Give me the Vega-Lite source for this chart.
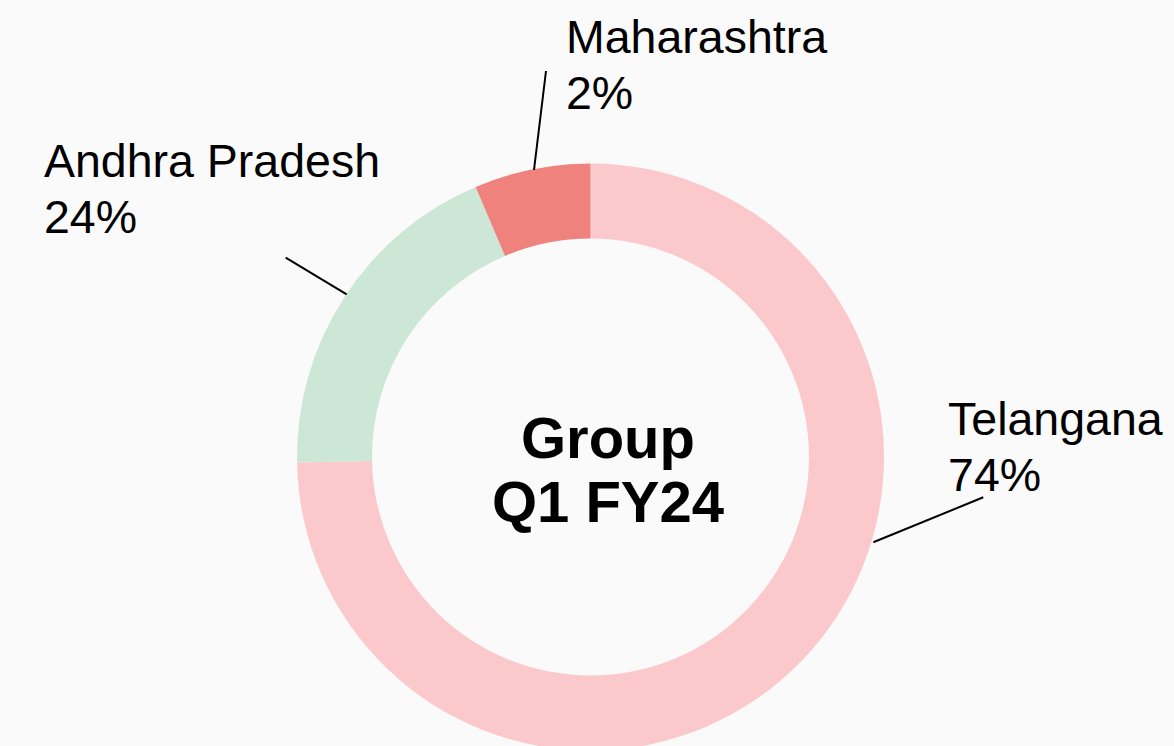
{
  "$schema": "https://vega.github.io/schema/vega-lite/v6.json",
  "width": 1167,
  "height": 578,
  "autosize": {"type": "none"},
  "padding": {"left": 7, "top": 168, "right": 0, "bottom": 0},
  "background": "#fafafa",
  "config": {"view": {"stroke": null}},
  "datasets": {
    "shares": [
      {"state": "Telangana", "share": 74.7, "label": "74%", "ord": 1, "lx": 1.2181, "ly": 0.075, "ax": 0.9636, "ay": -0.2906, "bx": 1.3383, "by": -0.1373},
      {"state": "Andhra Pradesh", "share": 18.9, "label": "24%", "ord": 2, "lx": -1.862, "ly": 0.953, "ax": -0.8307, "ay": 0.5543, "bx": -1.0385, "by": 0.679},
      {"state": "Maharashtra", "share": 6.4, "label": "2%", "ord": 3, "lx": -0.0835, "ly": 1.3755, "ax": -0.1925, "ay": 0.9779, "bx": -0.1516, "by": 1.3152}
    ],
    "center": [
      {"line": "Group", "cx": 0.0596, "cy": -0.0044},
      {"line": "Q1 FY24", "cx": 0.0596, "cy": -0.2204}
    ]
  },
  "layer": [
    {
      "data": {"name": "shares"},
      "mark": {"type": "arc", "innerRadius": 218.5, "outerRadius": 293.5},
      "encoding": {
        "theta": {"field": "share", "type": "quantitative", "stack": true},
        "order": {"field": "ord", "type": "quantitative", "sort": "ascending"},
        "color": {
          "field": "state",
          "type": "nominal",
          "scale": {"domain": ["Telangana", "Andhra Pradesh", "Maharashtra"], "range": ["#fbc9cb", "#cde7d7", "#ef827c"]},
          "legend": null
        }
      }
    },
    {
      "data": {"name": "shares"},
      "mark": {"type": "rule", "color": "#000000", "strokeWidth": 2},
      "encoding": {
        "x": {"field": "ax", "type": "quantitative", "scale": {"domain": [-1.988, 1.988], "nice": false, "zero": false}, "axis": null},
        "y": {"field": "ay", "type": "quantitative", "scale": {"domain": [-0.9847, 0.9847], "nice": false, "zero": false}, "axis": null},
        "x2": {"field": "bx"},
        "y2": {"field": "by"}
      }
    },
    {
      "data": {"name": "shares"},
      "mark": {"type": "text", "align": "left", "baseline": "alphabetic", "font": "Liberation Sans", "fontSize": 46.5, "color": "#000000"},
      "encoding": {
        "x": {"field": "lx", "type": "quantitative", "scale": {"domain": [-1.988, 1.988], "nice": false, "zero": false}, "axis": null},
        "y": {"field": "ly", "type": "quantitative", "scale": {"domain": [-0.9847, 0.9847], "nice": false, "zero": false}, "axis": null},
        "text": {"field": "state"}
      }
    },
    {
      "data": {"name": "shares"},
      "mark": {"type": "text", "align": "left", "baseline": "alphabetic", "font": "Liberation Sans", "fontSize": 46.5, "color": "#000000", "dy": 56},
      "encoding": {
        "x": {"field": "lx", "type": "quantitative", "scale": {"domain": [-1.988, 1.988], "nice": false, "zero": false}, "axis": null},
        "y": {"field": "ly", "type": "quantitative", "scale": {"domain": [-0.9847, 0.9847], "nice": false, "zero": false}, "axis": null},
        "text": {"field": "label"}
      }
    },
    {
      "data": {"name": "center"},
      "mark": {"type": "text", "align": "center", "baseline": "alphabetic", "font": "Liberation Sans", "fontWeight": "bold", "fontSize": 58, "color": "#000000"},
      "encoding": {
        "x": {"field": "cx", "type": "quantitative", "scale": {"domain": [-1.988, 1.988], "nice": false, "zero": false}, "axis": null},
        "y": {"field": "cy", "type": "quantitative", "scale": {"domain": [-0.9847, 0.9847], "nice": false, "zero": false}, "axis": null},
        "text": {"field": "line"}
      }
    }
  ]
}
